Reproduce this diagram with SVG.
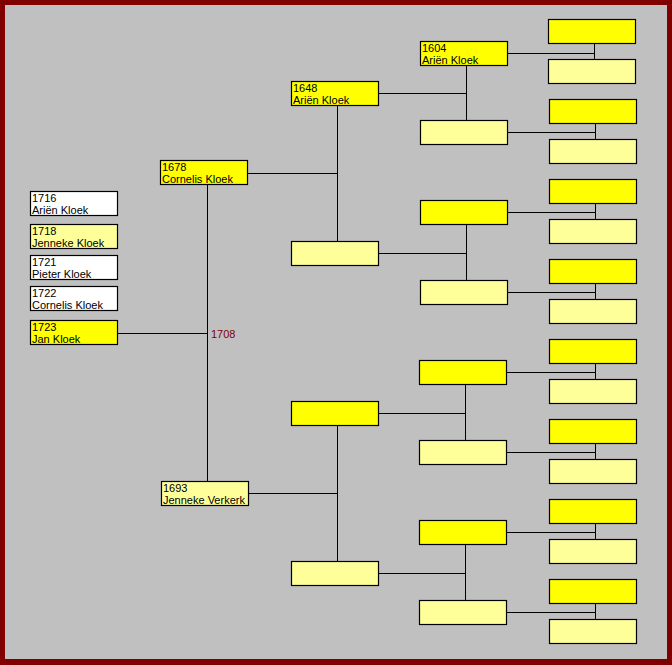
<svg xmlns="http://www.w3.org/2000/svg" width="672" height="665" viewBox="0 0 672 665">
<style>
.b{stroke:#000;stroke-width:1.2}
.y{fill:#FFFF00}
.l{fill:#FFFF99}
.w{fill:#FFFFFF}
.t{font-family:"Liberation Sans",Arial,sans-serif;font-size:11px;fill:#000}
.c{stroke:#000;stroke-width:1;fill:none}
.m{font-family:"Liberation Sans",Arial,sans-serif;font-size:11px;fill:#800000}
</style>
<rect x="0" y="0" width="672" height="665" fill="#800000"/>
<rect x="5" y="5" width="662" height="654" fill="#C0C0C0"/>
<g id="connectors">
<path class="c" d="M118 333.5H207.5M207.5 185V481"/>
<path class="c" d="M248 173.5H337.5M337.5 106V241M249 493.5H337.5M337.5 426V561"/>
<path class="c" d="M379 93.5H466.5M466.5 66V120M379 253.5H466.5M466.5 225V280M379 413.5H465.5M465.5 385V440M379 573.5H465.5M465.5 545V600"/>
<path class="c" d="M508 53.5H594.5M594.5 44V59M508 132.5H595.5M595.5 124V139M508 212.5H595.5M595.5 204V219M508 292.5H595.5M595.5 284V299M507 372.5H595.5M595.5 364V379M507 452.5H595.5M595.5 444V459M507 532.5H595.5M595.5 524V539M507 612.5H595.5M595.5 604V619"/>
</g>
<g id="child-1716"><rect class="b w" x="30.5" y="191.5" width="87" height="24"/><text class="t" x="32" y="202">1716</text><text class="t" x="32" y="213.5">Ariën Kloek</text></g>
<g id="child-1718"><rect class="b l" x="30.5" y="224.5" width="87" height="24"/><text class="t" x="32" y="235">1718</text><text class="t" x="32" y="246.5">Jenneke Kloek</text></g>
<g id="child-1721"><rect class="b w" x="30.5" y="255.5" width="87" height="24"/><text class="t" x="32" y="266">1721</text><text class="t" x="32" y="277.5">Pieter Kloek</text></g>
<g id="child-1722"><rect class="b w" x="30.5" y="286.5" width="87" height="24"/><text class="t" x="32" y="297">1722</text><text class="t" x="32" y="308.5">Cornelis Kloek</text></g>
<g id="child-1723"><rect class="b y" x="30.5" y="320.5" width="87" height="24"/><text class="t" x="32" y="331">1723</text><text class="t" x="32" y="342.5">Jan Kloek</text></g>
<g id="marriage-1708"><text class="m" x="211" y="338">1708</text></g>
<g id="father-1678"><rect class="b y" x="160.5" y="160.5" width="87" height="24"/><text class="t" x="162" y="171">1678</text><text class="t" x="162" y="182.5">Cornelis Kloek</text></g>
<g id="mother-1693"><rect class="b l" x="161.5" y="481.5" width="87" height="24"/><text class="t" x="163" y="492">1693</text><text class="t" x="163" y="503.5">Jenneke Verkerk</text></g>
<g id="g3-1648"><rect class="b y" x="291.5" y="81.5" width="87" height="24"/><text class="t" x="293" y="92">1648</text><text class="t" x="293" y="103.5">Ariën Kloek</text></g>
<g id="g3-2"><rect class="b l" x="291.5" y="241.5" width="87" height="24"/></g>
<g id="g3-3"><rect class="b y" x="291.5" y="401.5" width="87" height="24"/></g>
<g id="g3-4"><rect class="b l" x="291.5" y="561.5" width="87" height="24"/></g>
<g id="g4-1604"><rect class="b y" x="420.5" y="41.5" width="87" height="24"/><text class="t" x="422" y="52">1604</text><text class="t" x="422" y="63.5">Ariën Kloek</text></g>
<g id="g4-2"><rect class="b l" x="420.5" y="120.5" width="87" height="24"/></g>
<g id="g4-3"><rect class="b y" x="420.5" y="200.5" width="87" height="24"/></g>
<g id="g4-4"><rect class="b l" x="420.5" y="280.5" width="87" height="24"/></g>
<g id="g4-5"><rect class="b y" x="419.5" y="360.5" width="87" height="24"/></g>
<g id="g4-6"><rect class="b l" x="419.5" y="440.5" width="87" height="24"/></g>
<g id="g4-7"><rect class="b y" x="419.5" y="520.5" width="87" height="24"/></g>
<g id="g4-8"><rect class="b l" x="419.5" y="600.5" width="87" height="24"/></g>
<g id="g5-1"><rect class="b y" x="548.5" y="19.5" width="87" height="24"/></g>
<g id="g5-2"><rect class="b l" x="548.5" y="59.5" width="87" height="24"/></g>
<g id="g5-3"><rect class="b y" x="549.5" y="99.5" width="87" height="24"/></g>
<g id="g5-4"><rect class="b l" x="549.5" y="139.5" width="87" height="24"/></g>
<g id="g5-5"><rect class="b y" x="549.5" y="179.5" width="87" height="24"/></g>
<g id="g5-6"><rect class="b l" x="549.5" y="219.5" width="87" height="24"/></g>
<g id="g5-7"><rect class="b y" x="549.5" y="259.5" width="87" height="24"/></g>
<g id="g5-8"><rect class="b l" x="549.5" y="299.5" width="87" height="24"/></g>
<g id="g5-9"><rect class="b y" x="549.5" y="339.5" width="87" height="24"/></g>
<g id="g5-10"><rect class="b l" x="549.5" y="379.5" width="87" height="24"/></g>
<g id="g5-11"><rect class="b y" x="549.5" y="419.5" width="87" height="24"/></g>
<g id="g5-12"><rect class="b l" x="549.5" y="459.5" width="87" height="24"/></g>
<g id="g5-13"><rect class="b y" x="549.5" y="499.5" width="87" height="24"/></g>
<g id="g5-14"><rect class="b l" x="549.5" y="539.5" width="87" height="24"/></g>
<g id="g5-15"><rect class="b y" x="549.5" y="579.5" width="87" height="24"/></g>
<g id="g5-16"><rect class="b l" x="549.5" y="619.5" width="87" height="24"/></g>
</svg>
